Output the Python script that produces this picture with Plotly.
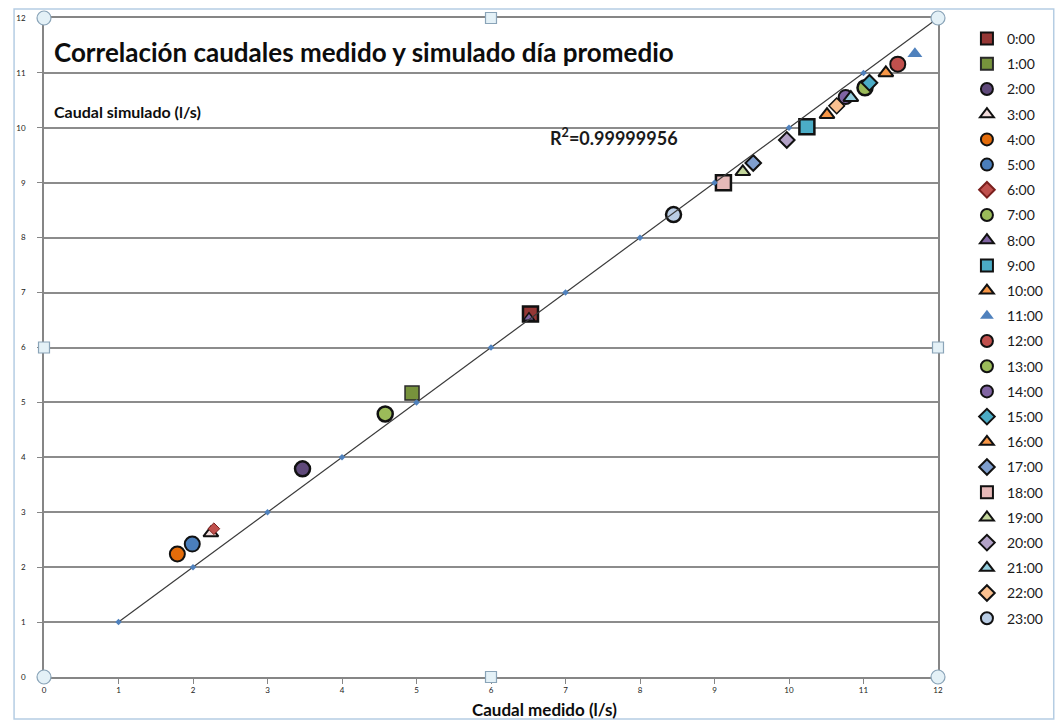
import plotly.graph_objects as go

# Hourly measured vs simulated flow (l/s), average day
horas = ["0:00", "1:00", "2:00", "3:00", "4:00", "5:00", "6:00", "7:00",
         "8:00", "9:00", "10:00", "11:00", "12:00", "13:00", "14:00", "15:00",
         "16:00", "17:00", "18:00", "19:00", "20:00", "21:00", "22:00", "23:00"]
caudal_medido = [6.53, 4.94, 3.47, 2.24, 1.79, 1.99, 2.28, 4.58,
                 6.51, 10.24, 11.30, 11.69, 11.46, 11.02, 10.76, 11.08,
                 10.51, 9.52, 9.12, 9.38, 9.97, 10.83, 10.64, 8.45]
caudal_simulado = [6.61, 5.17, 3.79, 2.62, 2.24, 2.42, 2.70, 4.79,
                   6.54, 10.02, 11.00, 11.35, 11.16, 10.73, 10.56, 10.82,
                   10.24, 9.36, 9.00, 9.20, 9.78, 10.55, 10.40, 8.42]

# 1:1 reference series with its linear fit
ref_x = [1, 2, 3, 4, 5, 6, 7, 8, 9, 10, 11, 12]
ref_y = [1, 2, 3, 4, 5, 6, 7, 8, 9, 10, 11, 12]
r2_text = "R<sup>2</sup>=0.99999956"

# marker style per hour: (symbol, fill, size, outline colour, outline width)
estilos = [
    ("square", "#953735", 15, "#111111", 2.5),
    ("square", "#77933C", 14, "#2a2a2a", 1.5),
    ("circle", "#5F497A", 15, "#111111", 2.5),
    ("triangle-up", "#F2DCDB", 13, "#111111", 2),
    ("circle", "#E46C0A", 15, "#111111", 2),
    ("circle", "#4A7EBB", 15, "#111111", 2),
    ("diamond", "#C0504D", 9, "#7a1f1d", 1),
    ("circle", "#9BBB59", 15, "#111111", 2.5),
    ("triangle-up", "#8064A2", 10, "#111111", 1.5),
    ("square", "#4BACC6", 15, "#111111", 2.5),
    ("triangle-up", "#F79646", 13, "#111111", 2),
    ("triangle-up", "#4F81BD", 13, "#4F81BD", 0),
    ("circle", "#C0504D", 15, "#111111", 2),
    ("circle", "#9BBB59", 15, "#111111", 2.5),
    ("circle", "#8064A2", 14, "#111111", 2),
    ("diamond", "#4BACC6", 12, "#111111", 2),
    ("triangle-up", "#F79646", 13, "#111111", 2),
    ("diamond", "#7F9FCF", 12, "#111111", 2),
    ("square", "#E6B9B8", 15, "#111111", 2.5),
    ("triangle-up", "#C3D69B", 13, "#111111", 2),
    ("diamond", "#B3A2C7", 12, "#111111", 2),
    ("triangle-up", "#93CDDD", 13, "#111111", 2),
    ("diamond", "#FAC090", 12, "#111111", 1.5),
    ("circle", "#B9CDE5", 15, "#111111", 2.5),
]

FONT = "Lato, 'Open Sans', sans-serif"
W, H = 1060, 724
ML, MR, MT, MB = 44, 120, 18, 47
PW, PH = W - ML - MR, H - MT - MB


def px(x):
    return (x - ML) / PW


def py(y):
    return (H - MB - y) / PH


fig = go.Figure()

for i, (hora, xm, ys) in enumerate(zip(horas, caudal_medido, caudal_simulado)):
    sym, col, size, lc, lw = estilos[i]
    fig.add_trace(go.Scatter(
        x=[xm], y=[ys], name=hora, legendgroup=hora, mode="markers",
        marker=dict(symbol=sym, color=col, size=size,
                    line=dict(color=lc, width=lw)),
    ))

fig.add_trace(go.Scatter(
    x=ref_x, y=ref_y, mode="lines+markers", showlegend=False,
    line=dict(color="#3a3a3a", width=1.2),
    marker=dict(symbol="diamond", color="#4F81BD", size=5),
))

# selection handles on the plot-area frame
shapes = []
for cx, cy, kind in [(ML, MT, "c"), (ML + PW, MT, "c"), (ML, H - MB, "c"), (ML + PW, H - MB, "c"),
                     (ML + PW / 2, MT, "s"), (ML, MT + PH / 2, "s"), (ML + PW, MT + PH / 2, "s"),
                     (ML + PW / 2, H - MB, "s")]:
    r = 7 if kind == "c" else 5.5
    shapes.append(dict(type="circle" if kind == "c" else "rect", xref="paper", yref="paper",
                       x0=px(cx - r), x1=px(cx + r), y0=py(cy + r), y1=py(cy - r),
                       fillcolor="#E4F1F7", line=dict(color="#8AA4B8", width=1.2), layer="above"))
# chart-area frame
shapes.append(dict(type="rect", xref="paper", yref="paper",
                   x0=px(14), x1=px(1056), y0=py(719), y1=py(9),
                   line=dict(color="#B5CDE3", width=1.5), layer="below"))

fig.update_layout(
    width=W, height=H,
    margin=dict(l=ML, r=MR, t=MT, b=MB),
    paper_bgcolor="white", plot_bgcolor="white",
    font=dict(family=FONT, color="#1a1a1a"),
    showlegend=True,
    legend=dict(x=px(969), y=py(23), xanchor="left", yanchor="top",
                font=dict(size=14, family=FONT, color="#1a1a1a"),
                itemwidth=30, itemsizing="constant", tracegroupgap=4,
                bgcolor="rgba(0,0,0,0)"),
    shapes=shapes,
    xaxis=dict(range=[0, 12], dtick=1, showgrid=False, zeroline=False,
               showline=True, linecolor="#868686", linewidth=1.5, mirror=True,
               ticks="outside", ticklen=5, tickcolor="#868686",
               tickfont=dict(size=8, color="#222222")),
    yaxis=dict(range=[0, 12], dtick=1, showgrid=True, gridcolor="#8C8C8C", gridwidth=1.5,
               zeroline=False, showline=True, linecolor="#868686", linewidth=1.5, mirror=True,
               ticks="outside", ticklen=5, tickcolor="#868686",
               tickfont=dict(size=8, color="#222222"), ticklabelstandoff=10),
    annotations=[
        dict(xref="paper", yref="paper", x=px(52), y=py(52), xanchor="left", yanchor="middle",
             text="<b>Correlación caudales medido y simulado día promedio</b>",
             showarrow=False, font=dict(size=26, family=FONT, color="#0d0d0d")),
        dict(xref="paper", yref="paper", x=px(52), y=py(112), xanchor="left", yanchor="middle",
             text="<b>Caudal simulado (l/s)</b>", showarrow=False,
             font=dict(size=16, family=FONT, color="#0d0d0d")),
        dict(xref="paper", yref="paper", x=px(546), y=py(709), xanchor="center", yanchor="middle",
             text="<b>Caudal medido (l/s)</b>", showarrow=False,
             font=dict(size=17, family=FONT, color="#0d0d0d")),
        dict(xref="paper", yref="paper", x=px(549), y=py(137), xanchor="left", yanchor="middle",
             text="<b>" + r2_text + "</b>", showarrow=False,
             font=dict(size=18, family=FONT, color="#1a1a1a")),
    ],
)

fig.write_html("out.html")
